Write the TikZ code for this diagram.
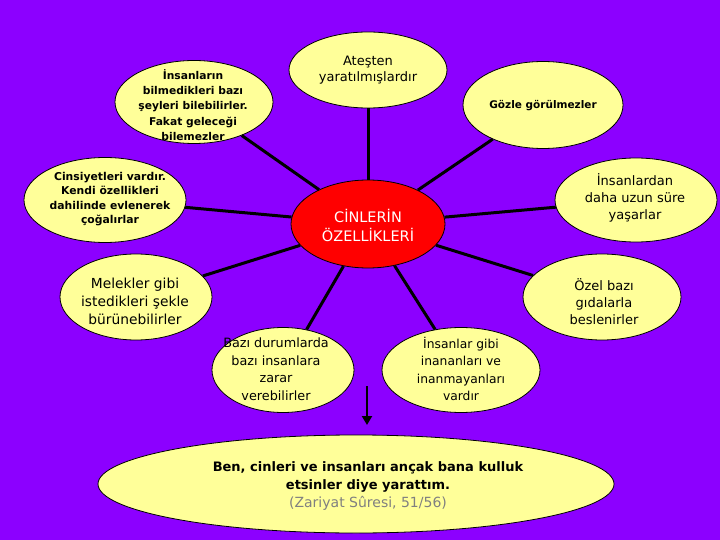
\documentclass[tikz,border=0pt]{standalone}
\usepackage{fontspec}
\setmainfont{DejaVu Sans}
\usetikzlibrary{shapes.geometric,arrows.meta}
\definecolor{bgpurple}{RGB}{140,0,255}
\definecolor{yel}{RGB}{255,255,153}
\definecolor{redc}{RGB}{255,0,0}
\definecolor{grayt}{RGB}{128,128,128}
\tikzset{
  bub/.style={ellipse, draw=black, line width=0.8pt, fill=yel, inner sep=0pt},
  cen/.style={ellipse, draw=black, line width=0.8pt, fill=redc, inner sep=0pt},
  txt/.style={align=center, inner sep=0pt, text=black},
  conn/.style={draw=black, line width=3pt},
}
\newcommand{\fs}[2]{\fontsize{#1}{#2}\selectfont}
\begin{document}
\begin{tikzpicture}[x=1pt,y=-1pt]
\fill[bgpurple] (0,0) rectangle (720,540);
\useasboundingbox (0,0) rectangle (720,540);
% ellipses
\node[cen, minimum width=154pt, minimum height=88pt] (c) at (368,224) {};
\node[bub, minimum width=158pt, minimum height=83pt] (e1) at (194,102) {};
\node[bub, minimum width=158pt, minimum height=76pt] (e2) at (368,70) {};
\node[bub, minimum width=160pt, minimum height=87pt] (e3) at (543,105) {};
\node[bub, minimum width=162pt, minimum height=85pt] (e4) at (105,200) {};
\node[bub, minimum width=162pt, minimum height=84pt] (e5) at (636,200) {};
\node[bub, minimum width=152pt, minimum height=86pt] (e7) at (136,297) {};
\node[bub, minimum width=158pt, minimum height=86pt] (e8) at (602,297) {};
\node[bub, minimum width=142pt, minimum height=85pt] (e9) at (283,370) {};
\node[bub, minimum width=158pt, minimum height=85pt] (e10) at (461,370) {};
\node[bub, minimum width=516pt, minimum height=98pt] (b) at (356,484) {};
% connectors
\foreach \n in {e1,e2,e3,e4,e5,e7,e8,e9,e10} \draw[conn] (c) -- (\n);
% texts
\node[txt, text=white, font=\fs{14.5}{19}] (ct) at (368,225) {CİNLERİN\\ÖZELLİKLERİ};
\node[txt, font=\fs{10.7}{15.3}\bfseries] (t1) at (193,105) {İnsanların\\bilmedikleri bazı\\şeyleri bilebilirler.\\Fakat geleceği\\bilemezler};
\node[txt, font=\fs{13}{16}] (t2) at (368,70) {Ateşten\\yaratılmışlardır};
\node[txt, font=\fs{10.5}{14}\bfseries] (t3) at (543,106) {Gözle görülmezler};
\node[txt, font=\fs{10.8}{14.5}\bfseries] (t4) at (110,199) {Cinsiyetleri vardır.\\Kendi özellikleri\\dahilinde evlenerek\\çoğalırlar};
\node[txt, font=\fs{13}{17}] (t5) at (635,198) {İnsanlardan\\daha uzun süre\\yaşarlar};
\node[txt, font=\fs{13.8}{18}] (t7) at (135,301) {Melekler gibi\\istedikleri şekle\\bürünebilirler};
\node[txt, font=\fs{13}{17}] (t8) at (604,302) {Özel bazı\\gıdalarla\\beslenirler};
\node[txt, font=\fs{12.8}{17.5}] (t9) at (276,369) {Bazı durumlarda\\bazı insanlara\\zarar\\verebilirler};
\node[txt, font=\fs{12.3}{17.5}] (t10) at (461,369) {İnsanlar gibi\\inananları ve\\inanmayanları\\vardır};
\node[txt, font=\fs{13}{18}\bfseries] (tb) at (368,477) {Ben, cinleri ve insanları ançak bana kulluk\\etsinler diye yarattım.};
\node[txt, text=grayt, font=\fs{14}{16}] (tg) at (368,503) {(Zariyat Sûresi, 51/56)};
% arrow
\coordinate (a1) at (367,386);
\coordinate (a2) at (367,425);
\draw[line width=2.6pt, -{Triangle[length=9pt,width=10pt]}] (a1) -- (a2);
\end{tikzpicture}
\end{document}
